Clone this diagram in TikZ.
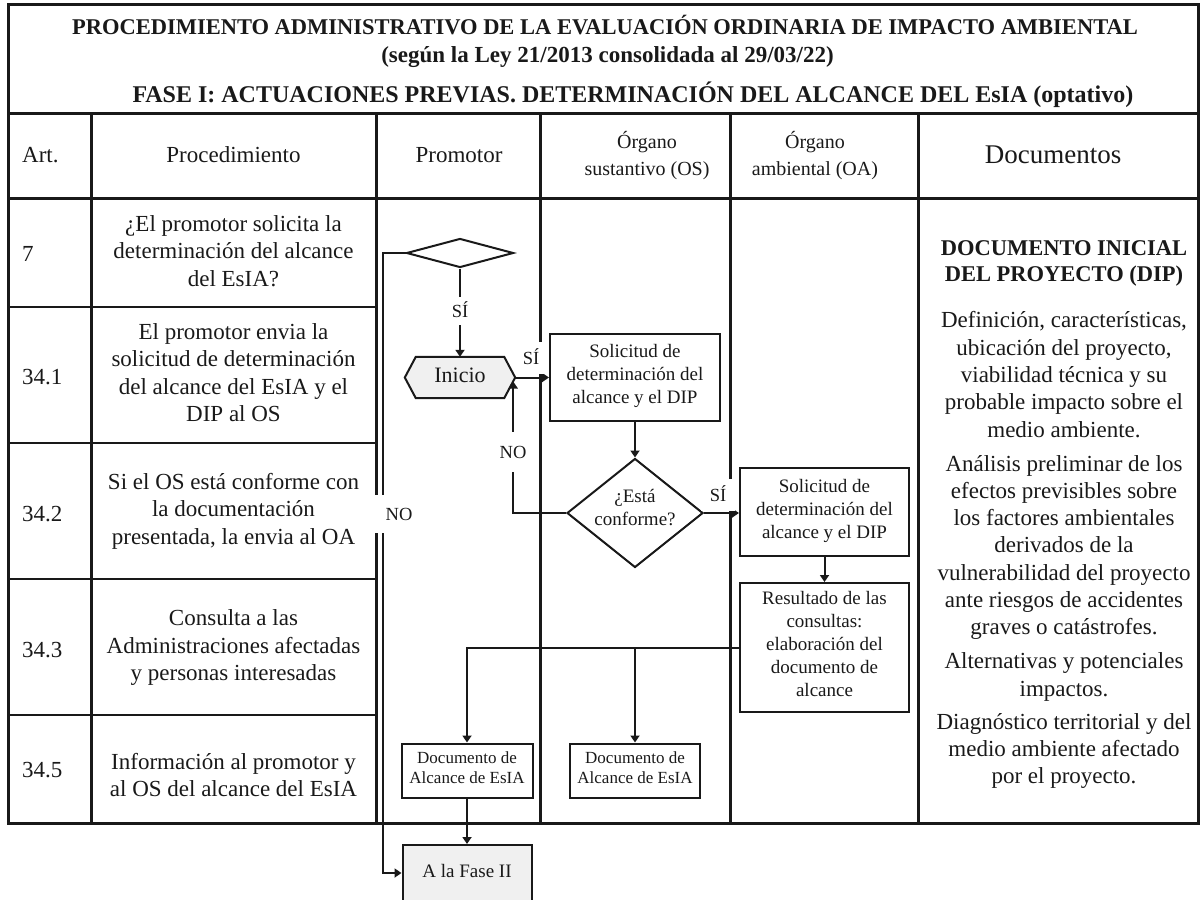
\documentclass[tikz,border=0pt]{standalone}
\usepackage{graphicx}
\usepackage{fontspec}
\setmainfont{Liberation Serif}
\usetikzlibrary{arrows.meta,shapes.geometric,calc,backgrounds}
\definecolor{ink}{RGB}{25,25,25}
\definecolor{shade}{RGB}{240,240,240}
\newcommand\setfs[2]{\fontsize{#1pt}{#2pt}\selectfont}

\begin{document}
\begin{tikzpicture}[x=1pt,y=-1pt,
  grid/.style={draw=ink,line width=3pt},
  rule/.style={draw=ink,line width=2.5pt},
  txt/.style={text=ink,inner sep=0pt,align=center,
    execute at begin node=\strut,execute at end node=\strut},
  body/.style={txt,font=\setfs{23}{27.5}},
  doc/.style={txt,font=\setfs{23}{27.3}},
  flowtxt/.style={txt,font=\setfs{19}{23}},
  smalltxt/.style={txt,font=\setfs{17}{20}},
  box/.style={draw=ink,line width=2pt,inner sep=0pt},
  flow/.style={draw=ink,line width=2pt},
  arrow/.style={flow,-{Triangle[length=7pt,width=9pt]}},
  lbl/.style={fill=white,text=ink,inner sep=0pt,font=\setfs{18.5}{22},
    text height=12pt,text depth=0pt},
]
\useasboundingbox (0,0) rectangle (1201,899);
\clip (0,0) rectangle (1201,899);

% ---- table frame ----
\draw[grid] (8,5) rectangle (1198,823);
\draw[grid] (8,113) -- (1198,113);
\draw[grid] (8,198) -- (1198,198);
\foreach \cx in {91,376,540,730,918}
  \draw[grid] (\cx,113) -- (\cx,823);
\foreach \ry in {307,443,579,715}
  \draw[rule] (8,\ry) -- (376,\ry);

% ---- title ----
\node[txt,font=\bfseries\setfs{22.5}{27}] (t1) at (605,28.7)
  {PROCEDIMIENTO ADMINISTRATIVO DE LA EVALUACIÓN ORDINARIA DE IMPACTO AMBIENTAL};
\node[txt,font=\bfseries\setfs{23}{27}] (t2) at (607.5,57.5)
  {(según la Ley 21/2013 consolidada al 29/03/22)};
\node[txt,font=\bfseries\setfs{24}{28}] (t3) at (633,96.5)
  {FASE I: ACTUACIONES PREVIAS. DETERMINACIÓN DEL ALCANCE DEL EsIA (optativo)};

% ---- column headers ----
\node[body,anchor=west] (hart) at (22,157) {Art.};
\node[body] (hproc) at (233.5,157) {Procedimiento};
\node[body] (hprom) at (459,157) {Promotor};
\node[txt,font=\setfs{20}{27}] (hos) at (647,157) {Órgano\\sustantivo (OS)};
\node[txt,font=\setfs{20}{27}] (hoa) at (815,157) {Órgano\\ambiental (OA)};
\node[txt,font=\setfs{27}{31}] (hdoc) at (1053,157) {Documentos};

% ---- article numbers ----
\node[body,anchor=west] (a1) at (22,255.7) {7};
\node[body,anchor=west] (a2) at (22,378.7) {34.1};
\node[body,anchor=west] (a3) at (22,515.7) {34.2};
\node[body,anchor=west] (a4) at (22,652.3) {34.3};
\node[body,anchor=west] (a5) at (22,772.3) {34.5};

% ---- procedure descriptions ----
\node[body] (p1) at (233.5,255) {¿El promotor solicita la\\determinación del alcance\\del EsIA?};
\node[body] (p2) at (233.5,376.5) {El promotor envia la\\solicitud de determinación\\del alcance del EsIA y el\\DIP al OS};
\node[body] (p3) at (233.5,513) {Si el OS está conforme con\\la documentación\\presentada, la envia al OA};
\node[body] (p4) at (233.5,649.5) {Consulta a las\\Administraciones afectadas\\y personas interesadas};
\node[body] (p5) at (233.5,779) {Información al promotor y\\al OS del alcance del EsIA};

% ---- documents column ----
\node[txt,font=\bfseries\setfs{22.5}{26}] (dt) at (1064,265) {DOCUMENTO INICIAL\\DEL PROYECTO (DIP)};
\node[doc] (dp1) at (1064,378.5) {Definición, características,\\ubicación del proyecto,\\viabilidad técnica y su\\probable impacto sobre el\\medio ambiente.};
\node[doc] (dp2) at (1064,549) {Análisis preliminar de los\\efectos previsibles sobre\\los factores ambientales\\derivados de la\\vulnerabilidad del proyecto\\ante riesgos de accidentes\\graves o catástrofes.};
\node[doc] (dp3) at (1064,678.5) {Alternativas y potenciales\\impactos.};
\node[doc] (dp4) at (1064,752.5) {Diagnóstico territorial y del\\medio ambiente afectado\\por el proyecto.};

% ---- flow nodes ----
\node[box,diamond,minimum width=107pt,minimum height=29pt] (d1) at (460,253) {};
\node[txt,font=\setfs{22}{26},minimum width=110pt,minimum height=41pt] (ini) at (460,377.5) {Inicio};
\begin{scope}[on background layer]
  \filldraw[draw=ink,line width=2pt,fill=shade]
    (ini.west) -- ($(ini.north west)+(11,0)$) -- ($(ini.north east)+(-11,0)$)
    -- (ini.east) -- ($(ini.south east)+(-11,0)$) -- ($(ini.south west)+(11,0)$) -- cycle;
\end{scope}
\node[box,flowtxt,minimum width=170pt,minimum height=87pt] (sol1) at (635,377) {Solicitud de\\determinación del\\alcance y el DIP};
\node[box,diamond,minimum width=136pt,minimum height=109pt] (d2) at (635,513) {};
\node[flowtxt] (d2t) at (635,511) {¿Está\\conforme?};
\node[box,flowtxt,minimum width=169pt,minimum height=88pt] (sol2) at (824.5,512) {Solicitud de\\determinación del\\alcance y el DIP};
\node[box,flowtxt,minimum width=169pt,minimum height=129pt] (res) at (824.5,647.5) {Resultado de las\\consultas:\\elaboración del\\documento de\\alcance};
\node[box,smalltxt,minimum width=131pt,minimum height=54pt] (doc1) at (467,770.5) {Documento de\\Alcance de EsIA};
\node[box,smalltxt,minimum width=130pt,minimum height=54pt] (doc2) at (635,770.5) {Documento de\\Alcance de EsIA};
\node[box,flowtxt,fill=shade,minimum width=129pt,minimum height=56pt] (fase) at (467,873) {A la Fase II};

% ---- connectors ----
\draw[arrow] (d1.west) -- ++(-23,0) |- (fase.west);
\draw[arrow] (d1.south) -- (d1.south |- ini.north);
\draw[arrow] (ini.east) -- (ini.east -| sol1.west);
\draw[arrow] (sol1.south) -- (d2.north);
\draw[arrow] (d2.west) -| ($(ini.east)+(-2,4)$);
\draw[arrow] (d2.east) -- (d2.east -| sol2.west);
\draw[arrow] (sol2.south) -- (res.north);
\draw[arrow] (res.west) -| (doc1.north);
\draw[arrow] (doc2.north |- res.west) -- (doc2.north);
\draw[arrow] (doc1.south) -- (fase.north);

% ---- branch labels ----
\node[lbl,minimum width=24pt,minimum height=28pt] (l1) at (460,311) {SÍ};
\node[lbl,minimum width=30pt,minimum height=32pt] (l2) at (531,358) {SÍ};
\node[lbl,minimum width=34pt,minimum height=40pt] (l3) at (513,452) {NO};
\node[lbl,minimum width=34pt,minimum height=32pt] (l4) at (718,495) {SÍ};
\node[lbl,minimum width=50pt,minimum height=38pt] (l5) at (399,514) {NO};
\end{tikzpicture}
\end{document}
